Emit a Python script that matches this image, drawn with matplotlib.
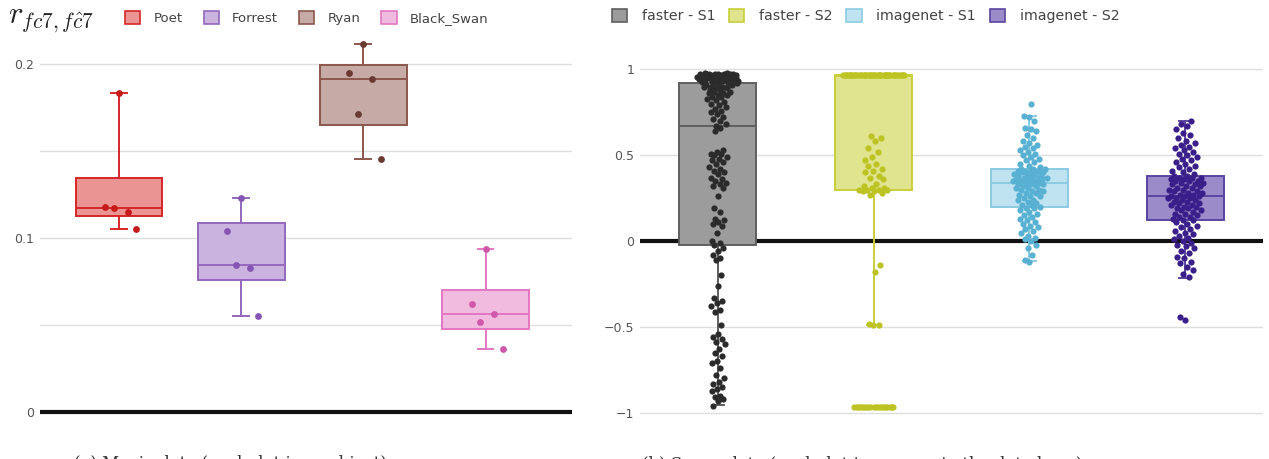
import numpy as np
import matplotlib.pyplot as plt
from matplotlib.patches import Patch

# -----------------------------
# Movie data (left panel)
# -----------------------------
movies = ["Poet", "Forrest", "Ryan", "Black_Swan"]
poet = [0.1835, 0.1178, 0.1149, 0.1172, 0.1053]
forrest = [0.1230, 0.1039, 0.0828, 0.0847, 0.0552]
ryan = [0.2117, 0.1948, 0.1912, 0.1714, 0.1456]
black_swan = [0.0939, 0.0621, 0.0565, 0.0516, 0.0364]

movie_lo = [0.1053, 0.0552, 0.1456, 0.0364]
movie_q1 = [0.1126, 0.0757, 0.1648, 0.0479]
movie_med = [0.1172, 0.0847, 0.1912, 0.0565]
movie_q3 = [0.1345, 0.1086, 0.1993, 0.0700]
movie_hi = [0.1835, 0.1230, 0.2117, 0.0939]

# -----------------------------
# Scene data (right panel)
# -----------------------------
scenes = ["faster - S1", "faster - S2", "imagenet - S1", "imagenet - S2"]

faster_s1 = [0.92, 0.925, 0.93, 0.93, 0.935, 0.935, 0.94, 0.94, 0.94, 0.945,
             0.945, 0.95, 0.95, 0.95, 0.95, 0.955, 0.955, 0.955, 0.96, 0.96,
             0.96, 0.96, 0.96, 0.965, 0.965, 0.965, 0.965, 0.97, 0.97, 0.97,
             0.97, 0.97, 0.975, 0.975, 0.975, 0.98, 0.98,
             0.67, 0.68, 0.70, 0.71, 0.72, 0.74, 0.75, 0.76, 0.77, 0.78,
             0.79, 0.80, 0.81, 0.82, 0.83, 0.84, 0.84, 0.85, 0.85, 0.86,
             0.86, 0.87, 0.87, 0.88, 0.88, 0.89, 0.89, 0.90, 0.90, 0.90,
             0.91, 0.91, 0.91, 0.92, 0.92, 0.92,
             0.66, 0.64, 0.53, 0.52, 0.51, 0.51, 0.50, 0.49, 0.48, 0.47,
             0.46, 0.45, 0.43, 0.42, 0.41, 0.40, 0.39, 0.37, 0.36, 0.35,
             0.34, 0.33, 0.32, 0.31, 0.26, 0.19, 0.17, 0.13, 0.12, 0.11,
             0.10, 0.09, 0.05, 0.0, -0.01, -0.02,
             -0.04, -0.06, -0.08, -0.10, -0.11, -0.20, -0.26, -0.33, -0.35,
             -0.36, -0.38, -0.40, -0.41, -0.49, -0.54, -0.56, -0.57, -0.59,
             -0.60, -0.63, -0.65, -0.67, -0.70, -0.71, -0.74, -0.78, -0.80,
             -0.82, -0.83, -0.85, -0.86, -0.87, -0.90, -0.91, -0.92, -0.93,
             -0.96]

faster_s2 = [0.965] * 45 + \
            [0.61, 0.60, 0.58, 0.54, 0.52, 0.49, 0.47, 0.45, 0.44, 0.42,
             0.41, 0.40, 0.38, 0.37, 0.36, 0.33, 0.32, 0.31, 0.31, 0.30,
             0.30, 0.30, 0.30, 0.29, 0.29, 0.28, 0.27,
             -0.14, -0.18, -0.48, -0.49, -0.49] + \
            [-0.965] * 20

imagenet_s1 = [-0.12, -0.11, -0.08, -0.04, -0.02, 0.0, 0.01, 0.02, 0.03, 0.05,
               0.06, 0.07, 0.08, 0.09, 0.10, 0.11, 0.12, 0.13, 0.14, 0.15,
               0.16, 0.17, 0.18, 0.19, 0.19,
               0.20, 0.21, 0.21, 0.22, 0.23, 0.24, 0.24, 0.25, 0.26, 0.26,
               0.27, 0.28, 0.28, 0.29, 0.29, 0.30, 0.30, 0.31, 0.31, 0.32,
               0.32, 0.33, 0.33, 0.33, 0.34,
               0.34, 0.35, 0.35, 0.35, 0.36, 0.36, 0.36, 0.37, 0.37, 0.37,
               0.38, 0.38, 0.38, 0.39, 0.39, 0.39, 0.40, 0.40, 0.40, 0.41,
               0.41, 0.41, 0.42, 0.42, 0.42,
               0.43, 0.44, 0.45, 0.46, 0.47, 0.48, 0.49, 0.50, 0.51, 0.52,
               0.53, 0.54, 0.55, 0.56, 0.57, 0.58, 0.60, 0.62, 0.64, 0.65,
               0.66, 0.70, 0.72, 0.73, 0.80]

imagenet_s2 = [-0.46, -0.44,
               -0.21, -0.19, -0.17, -0.15, -0.13, -0.12, -0.10, -0.09, -0.07,
               -0.06, -0.04, -0.03, -0.02, -0.01, 0.0, 0.01, 0.02, 0.03, 0.04,
               0.05, 0.06, 0.07, 0.08, 0.09, 0.10, 0.11, 0.12,
               0.12, 0.13, 0.14, 0.14, 0.15, 0.16, 0.16, 0.17, 0.18, 0.18,
               0.19, 0.19, 0.20, 0.20, 0.21, 0.21, 0.22, 0.22, 0.23, 0.23,
               0.24, 0.24, 0.25, 0.25, 0.25, 0.26, 0.26,
               0.26, 0.27, 0.27, 0.28, 0.28, 0.29, 0.29, 0.30, 0.30, 0.31,
               0.31, 0.32, 0.32, 0.33, 0.33, 0.34, 0.34, 0.35, 0.35, 0.35,
               0.36, 0.36, 0.37, 0.37, 0.37, 0.38, 0.38,
               0.39, 0.40, 0.41, 0.42, 0.43, 0.44, 0.45, 0.46, 0.47, 0.48,
               0.49, 0.50, 0.51, 0.52, 0.53, 0.54, 0.55, 0.56, 0.57, 0.58,
               0.60, 0.62, 0.63, 0.65, 0.67, 0.68, 0.70]

scene_lo = [-0.957, -0.49, -0.116, -0.213]
scene_q1 = [-0.025, 0.30, 0.199, 0.122]
scene_med = [0.673, 0.96, 0.339, 0.262]
scene_q3 = [0.922, 0.965, 0.42, 0.38]
scene_hi = [0.975, 0.965, 0.73, 0.70]

# colours: (line, fill, points)
movie_colors = [("#d62728", "#eb9494", "#c41a1a"),
                ("#9467bd", "#cab3de", "#8655b3"),
                ("#8c564b", "#c5aaa5", "#6a3a31"),
                ("#e377c2", "#f1bbe0", "#cf58aa")]
scene_colors = [("#5f5f5f", "#9c9c9c", "#2b2b2b"),
                ("#c9cf3a", "#e0e48f", "#bcc322"),
                ("#8ccbe2", "#bfe3f0", "#58b0d3"),
                ("#5a45a0", "#9c8bc9", "#3a1e8a")]


def jitter(vals, amp, span):
    # density-scaled jitter, deterministic (golden ratio sequence)
    v = np.asarray(vals, dtype=float)
    base = ((np.arange(len(v)) * 0.618034 + 0.5) % 1) * 2 - 1
    cnt = np.array([(np.abs(v - x) < span).sum() for x in v])
    return amp * base * np.sqrt(cnt / cnt.max())


def draw_panel(ax, groups, lo, q1, med, q3, hi, colors, width, capw, amps, span, ms):
    stats = []
    for i in range(len(groups)):
        stats.append(dict(whislo=lo[i], q1=q1[i], med=med[i], q3=q3[i],
                          whishi=hi[i], fliers=[]))
    pos = np.arange(len(groups))
    bp = ax.bxp(stats, positions=pos, widths=width, patch_artist=True,
                showfliers=False, capwidths=capw)
    for i, (lc, fc, pc) in enumerate(colors):
        bp["boxes"][i].set(facecolor=fc, edgecolor=lc, linewidth=1.4, zorder=2)
        bp["medians"][i].set(color=lc, linewidth=1.4, zorder=3)
        for ln in bp["whiskers"][2 * i:2 * i + 2] + bp["caps"][2 * i:2 * i + 2]:
            ln.set(color=lc, linewidth=1.4, zorder=2)
        vals = groups[i]
        xs = pos[i] + jitter(vals, amps[i], span)
        ax.scatter(xs, vals, s=ms, color=pc, zorder=4, linewidths=0)


def style_axis(ax):
    for s in ax.spines.values():
        s.set_visible(False)
    ax.tick_params(axis="both", length=0, labelsize=9, labelcolor="#555555", pad=4)
    ax.set_xticks([])
    ax.grid(axis="y", which="both", color="#dedede", linewidth=1, zorder=0)
    ax.set_axisbelow(True)
    ax.axhline(0, color="#111111", linewidth=3, zorder=1)


fig = plt.figure(figsize=(12.69, 4.59), dpi=100)

# -----------------------------
# Left: movie data
# -----------------------------
ax1 = fig.add_axes([40 / 1269, 1 - 415 / 459, 532 / 1269, 380 / 459])
draw_panel(ax1, [poet, forrest, ryan, black_swan], movie_lo, movie_q1, movie_med,
           movie_q3, movie_hi, movie_colors, 0.71, 0.13, [0.15] * 4, 1.0, 24)
style_axis(ax1)
ax1.set_xlim(-0.647, 3.708)
ax1.set_ylim(-0.0017, 0.2167)
ax1.set_yticks([0, 0.1, 0.2], ["0", "0.1", "0.2"])
ax1.set_yticks([0.05, 0.15], minor=True)
ax1.tick_params(which="minor", length=0)

fig.text(0.006, 0.955, r"$r_{fc7,f\hat{c}7}$", fontsize=22, va="center",
         ha="left", color="#222222", math_fontfamily="cm")

h1 = [Patch(facecolor=fc, edgecolor=lc, linewidth=1.2) for lc, fc, pc in movie_colors]
fig.legend(h1, movies, loc="center left", bbox_to_anchor=(125 / 1269, 1 - 18 / 459),
           ncol=4, frameon=False, fontsize=9.5, handlelength=1.15, handleheight=1.15,
           handletextpad=1.0, columnspacing=1.6, borderpad=0, borderaxespad=0,
           labelcolor="#444444")

# -----------------------------
# Right: scene data
# -----------------------------
ax2 = fig.add_axes([640 / 1269, 1 - 430 / 459, 623 / 1269, 395 / 459])
draw_panel(ax2, [faster_s1, faster_s2, imagenet_s1, imagenet_s2], scene_lo, scene_q1,
           scene_med, scene_q3, scene_hi, scene_colors, 0.495, 0.08,
           [0.14, 0.2, 0.12, 0.12], 0.04, 20)
style_axis(ax2)
ax2.set_xlim(-0.5, 3.5)
ax2.set_ylim(-1.1, 1.2)
ax2.set_yticks([-1, -0.5, 0, 0.5, 1], ["\u22121", "\u22120.5", "0", "0.5", "1"])

h2 = [Patch(facecolor=fc, edgecolor=lc, linewidth=1.2) for lc, fc, pc in scene_colors]
fig.legend(h2, scenes, loc="center left", bbox_to_anchor=(612 / 1269, 1 - 16 / 459),
           ncol=4, frameon=False, fontsize=10.2, handlelength=1.08, handleheight=1.08,
           handletextpad=1.05, columnspacing=0.95, borderpad=0, borderaxespad=0,
           labelcolor="#444444")

# captions (cut off by the bottom edge, as in the original)
fig.text(230 / 1269, 1 - 455 / 459, "(a) Movie data (each dot is a subject)",
         ha="center", va="top", fontsize=12, family="DejaVu Serif", color="#333333")
fig.text(862 / 1269, 1 - 455 / 459, "(b) Scene data (each dot is a scene in the data base)",
         ha="center", va="top", fontsize=12, family="DejaVu Serif", color="#333333")

fig.savefig("out.png", dpi=100)
